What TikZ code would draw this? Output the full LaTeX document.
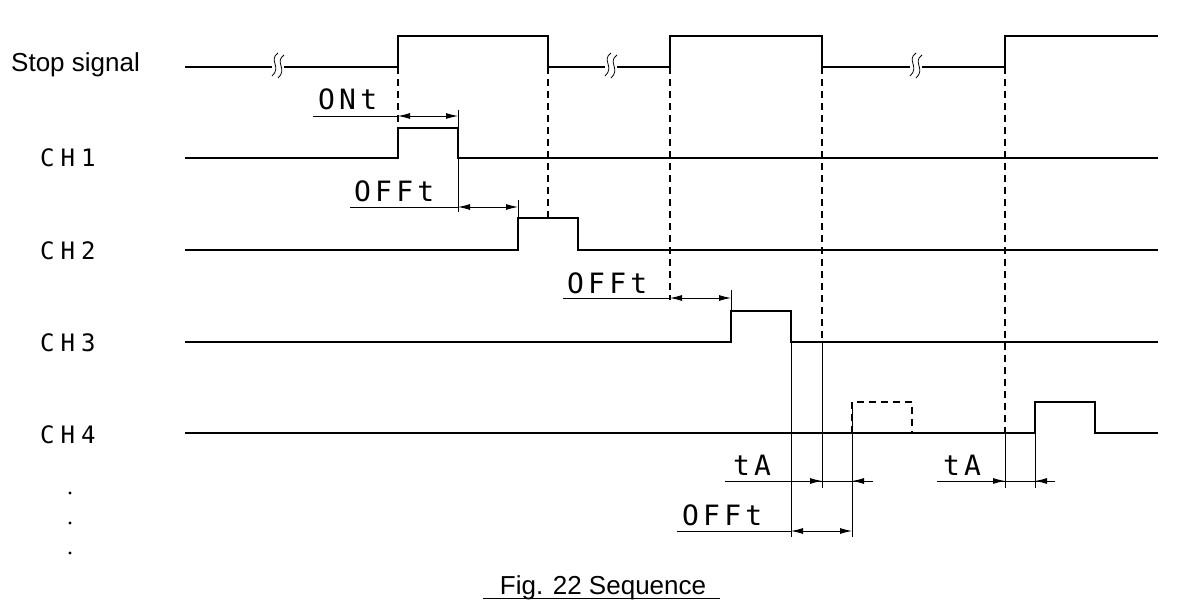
\documentclass[tikz,border=0pt]{standalone}
\usepackage{fontspec}
\setmainfont{Liberation Sans}
\newfontfamily\tech{DejaVu Sans Mono}[LetterSpace=15]
\newfontfamily\techb{DejaVu Sans Mono}[LetterSpace=25]
\usetikzlibrary{arrows.meta}
\begin{document}
\begin{tikzpicture}[x=1pt,y=-1pt,
  sig/.style={line width=2pt},
  guide/.style={line width=1.2pt,dash pattern=on 7pt off 5pt},
  ext/.style={line width=0.9pt},
  dim/.style={line width=0.9pt},
  tip/.style={-{Latex[length=12pt,width=6pt]}},
  arr/.style={dim,{Latex[length=12pt,width=6pt]}-{Latex[length=12pt,width=6pt]}},
  lbl/.style={font=\tech\fontsize{28}{28}\selectfont,inner sep=0pt,anchor=base west},
  chl/.style={font=\techb\fontsize{24}{24}\selectfont,inner sep=0pt,anchor=base west},
  brk/.style={line width=0.8pt}]
\useasboundingbox (0,0) rectangle (1179,607);
% stop signal
\draw[sig] (185,67) -- (398,67) -- (398,36) -- (548,36) -- (548,67) -- (670,67) -- (670,36) -- (822,36) -- (822,67) -- (1005,67) -- (1005,36) -- (1158,36);
\foreach \x in {277,610,915}{
  \fill[white] (\x-5,56) rectangle (\x+7,78);
  \draw[brk] (\x+1,53) .. controls (\x-9,60) and (\x+5,67) .. (\x-5,76);
  \draw[brk] (\x+7,55) .. controls (\x-3,62) and (\x+11,69) .. (\x+1,78);
}
\node[anchor=base west,font=\fontsize{26}{26}\selectfont,inner sep=0pt] (ss) at (11,72) {Stop signal};
% channels
\draw[sig] (185,158) -- (398,158) -- (398,128) -- (458,128) -- (458,158) -- (1158,158);
\draw[sig] (185,250) -- (518,250) -- (518,218) -- (578,218) -- (578,250) -- (1158,250);
\draw[sig] (185,342) -- (731,342) -- (731,311) -- (791,311) -- (791,342) -- (1158,342);
\draw[sig] (185,433) -- (1035,433) -- (1035,402) -- (1095,402) -- (1095,433) -- (1158,433);
\draw[guide] (852,433) -- (852,402) -- (912,402) -- (912,433);
\node[chl] (c1) at (40,167) {CH1};
\node[chl] (c2) at (40,259) {CH2};
\node[chl] (c3) at (40,351) {CH3};
\node[chl] (c4) at (40,443) {CH4};
\foreach \y in {493,523,553} \fill (70,\y) circle (1.6);
% dashed guides
\draw[guide] (398,67) -- (398,128);
\draw[guide] (548,67) -- (548,218);
\draw[guide] (670,67) -- (670,300);
\draw[guide] (822,67) -- (822,342);
\draw[guide] (1005,67) -- (1005,433);
% extension lines
\draw[ext] (458,110) -- (458,212);
\draw[ext] (518,200) -- (518,218);
\draw[ext] (731,290) -- (731,311);
\draw[ext] (791,342) -- (791,537);
\draw[ext] (822,342) -- (822,488);
\draw[ext] (852,402) -- (852,537);
\draw[ext] (1005,433) -- (1005,488);
\draw[ext] (1035,433) -- (1035,488);
% ONt
\draw[dim] (313,116) -- (398,116);
\draw[arr] (398,116) -- (458,116);
\node[lbl] (ont) at (318,110) {ONt};
% OFFt CH2
\draw[dim] (350,207) -- (458,207);
\draw[arr] (458,207) -- (518,207);
\node[lbl] (o2) at (354,201) {OFFt};
% OFFt CH3
\draw[dim] (563,298) -- (670,298);
\draw[arr] (670,298) -- (731,298);
\node[lbl] (o3) at (567,293) {OFFt};
% tA 1
\draw[dim] (725,481) -- (873,481);
\draw[dim,tip] (800,481) -- (822,481);
\draw[dim,tip] (873,481) -- (852,481);
\node[lbl] (ta1) at (733,475) {tA};
% OFFt CH4
\draw[dim] (677,531) -- (791,531);
\draw[arr] (791,531) -- (852,531);
\node[lbl] (o4) at (682,525) {OFFt};
% tA 2
\draw[dim] (937,481) -- (1055,481);
\draw[dim,tip] (980,481) -- (1005,481);
\draw[dim,tip] (1055,481) -- (1035,481);
\node[lbl] (ta2) at (943,475) {tA};
% caption
\node[font=\fontsize{26}{26}\selectfont,inner sep=0pt,anchor=base] (cap) at (603,594) {Fig. 22 Sequence};
\draw[line width=1pt] (483,598) -- (720,598);
\end{tikzpicture}
\end{document}
